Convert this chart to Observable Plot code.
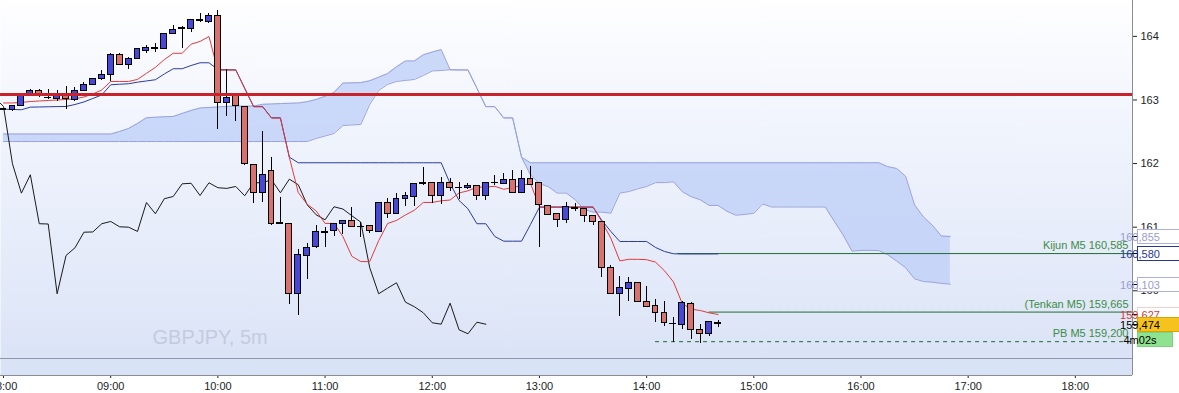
<!DOCTYPE html>
<html><head><meta charset="utf-8">
<script src="https://cdn.jsdelivr.net/npm/d3@7"></script>
<script src="https://cdn.jsdelivr.net/npm/@observablehq/plot@0.6"></script>
<style>
html,body{margin:0;padding:0;background:#fff;}
#chart{width:1179px;height:393px;overflow:hidden;}
</style></head>
<body><div id="chart"></div>
<script>
// ---- data (bar index i = 5-minute bars from 08:00) ----
const opens = [162.845,162.846,162.909,163.066,163.145,163.035,163.013,163.086,163.003,163.145,
163.239,163.322,163.396,163.700,163.553,163.648,163.767,163.800,163.794,164.035,
164.115,164.119,164.245,164.230,164.313,162.956,163.055,162.887,161.975,161.541,
161.876,161.060,161.043,159.953,160.539,160.681,160.915,160.933,161.043,161.090,
161.010,161.022,160.921,161.388,161.211,161.440,161.472,161.680,161.698,161.498,
161.698,161.620,161.613,161.640,161.494,161.690,161.682,161.745,161.541,161.755,
161.698,161.330,161.200,161.116,161.295,161.290,161.179,161.085,160.362,159.953,
160.031,160.126,159.827,159.753,159.654,159.485,159.455,159.785,159.381,159.324,
159.497];
const highs = [162.870,162.915,163.065,163.170,163.170,163.160,163.149,163.212,163.192,163.275,
163.340,163.469,163.736,163.736,163.660,163.800,163.862,163.884,164.040,164.176,
164.156,164.270,164.355,164.355,164.407,163.475,163.107,162.900,161.990,162.505,
162.091,161.472,161.050,160.645,160.739,161.022,161.000,161.060,161.100,161.305,
161.079,161.030,161.390,161.447,161.525,161.541,161.690,161.934,161.700,161.786,
161.761,161.698,161.682,161.650,161.700,161.808,161.840,161.892,161.892,161.954,
161.705,161.340,161.210,161.388,161.377,161.300,161.190,161.090,160.400,160.230,
160.204,160.130,160.068,159.859,159.827,159.585,159.832,159.816,159.465,159.510,
159.528];
const lows = [162.830,162.819,162.900,163.060,163.035,163.003,162.976,162.846,162.976,163.140,
163.230,163.310,163.291,163.540,163.484,163.640,163.736,163.752,163.790,164.030,
163.805,164.066,164.218,164.207,162.531,162.745,162.667,161.965,161.377,161.393,
161.022,161.040,159.785,159.612,160.183,160.670,160.686,160.854,160.885,161.000,
160.843,160.896,160.920,161.142,161.210,161.326,161.326,161.660,161.377,161.352,
161.566,161.436,161.600,161.420,161.420,161.651,161.675,161.535,161.535,161.660,
160.686,161.176,161.000,161.063,161.252,161.079,161.027,160.214,159.945,159.601,
159.837,159.810,159.740,159.497,159.439,159.192,159.387,159.230,159.176,159.282,
159.428];
const closes = [162.855,162.909,163.060,163.145,163.055,163.025,163.091,163.008,163.145,163.239,
163.333,163.396,163.700,163.553,163.648,163.794,163.821,163.810,164.035,164.104,
164.125,164.261,164.255,164.313,162.956,163.035,162.898,161.997,161.535,161.824,
161.054,161.050,159.953,160.555,160.676,160.921,160.925,161.054,161.090,161.006,
161.000,160.933,161.388,161.211,161.447,161.483,161.682,161.690,161.498,161.698,
161.620,161.610,161.640,161.494,161.698,161.700,161.745,161.541,161.755,161.667,
161.352,161.195,161.116,161.321,161.285,161.179,161.079,160.362,159.953,160.041,
160.126,159.821,159.749,159.654,159.497,159.475,159.805,159.387,159.324,159.506,
159.474];
const tenkan = [162.953,162.953,162.961,162.976,162.984,162.992,163.000,163.008,163.016,163.047,
163.093,163.158,163.291,163.291,163.291,163.323,163.419,163.512,163.635,163.734,
163.734,163.877,163.920,163.998,163.469,163.469,163.469,163.186,162.892,162.892,
162.715,162.715,162.096,161.544,161.360,161.256,161.059,161.059,160.852,160.542,
160.459,160.459,160.787,161.058,161.106,161.192,161.267,161.389,161.389,161.415,
161.427,161.538,161.572,161.630,161.630,161.643,161.596,161.622,161.656,161.687,
161.320,161.320,161.320,161.320,161.320,161.320,161.320,161.084,160.825,160.470,
160.495,160.495,160.489,160.450,160.315,160.141,159.796,159.711,159.690,159.653,
159.627];
const kijun = [162.855,162.851,162.846,162.887,162.890,162.893,162.896,162.898,162.929,162.969,
163.024,163.079,163.239,163.247,163.255,163.280,163.299,163.318,163.409,163.491,
163.491,163.542,163.585,163.585,163.480,163.475,163.475,163.181,162.898,162.898,
162.720,162.720,162.101,162.013,162.013,162.013,162.013,162.013,162.013,162.013,
162.013,162.013,162.013,162.013,162.013,162.013,162.013,162.013,162.013,162.013,
161.687,161.420,161.289,161.054,161.054,160.854,160.780,160.780,160.780,161.042,
161.314,161.314,161.314,161.314,161.314,161.314,161.314,161.105,160.932,160.775,
160.775,160.775,160.775,160.681,160.618,160.582,160.579,160.579,160.579,160.579,
160.580];
const senkouA = [162.465,162.465,162.465,162.465,162.465,162.465,162.465,162.465,162.465,162.465,
162.465,162.465,162.465,162.505,162.552,162.630,162.720,162.728,162.736,162.741,
162.788,162.835,162.874,162.882,162.890,162.898,162.904,162.902,162.904,162.932,
162.937,162.943,162.948,162.953,162.973,163.008,163.059,163.119,163.265,163.269,
163.273,163.302,163.359,163.415,163.522,163.613,163.613,163.710,163.753,163.792,
163.475,163.472,163.472,163.184,162.895,162.895,162.718,162.718,162.099,161.820,
161.687,161.635,161.536,161.536,161.433,161.278,161.236,161.236,161.220,161.536,
161.560,161.603,161.640,161.701,161.701,161.714,161.557,161.479,161.431,161.342,
161.342,161.249,161.188,161.201,161.218,161.365,161.317,161.317,161.317,161.317,
161.317,161.317,161.317,161.095,160.879,160.623,160.635,160.635,160.632,160.566,
160.467,160.362,160.188,160.145,160.135,160.116,160.104];
const senkouB = [162.347,162.347,162.347,162.347,162.347,162.347,162.347,162.347,162.347,162.347,
162.347,162.347,162.347,162.347,162.347,162.347,162.347,162.347,162.347,162.347,
162.347,162.347,162.347,162.347,162.347,162.347,162.347,162.347,162.347,162.347,
162.347,162.347,162.347,162.347,162.347,162.395,162.434,162.473,162.599,162.607,
162.615,162.929,163.149,163.244,163.291,163.307,163.322,163.385,163.456,163.464,
163.475,163.472,163.472,163.184,162.895,162.895,162.718,162.718,162.099,162.013,
162.013,162.013,162.013,162.013,162.013,162.013,162.013,162.013,162.013,162.013,
162.013,162.013,162.013,162.013,162.013,162.013,162.013,162.013,162.013,162.013,
162.013,162.013,162.013,162.013,162.013,162.013,162.013,162.013,162.013,162.013,
162.013,162.013,162.013,162.013,162.013,162.013,162.013,162.013,162.013,161.952,
161.923,161.800,161.350,161.160,161.030,160.860,160.855];
const chikouShift = 26;
const resistanceLevel = 163.086;
const levelNames = ["Kijun M5 160,585", "(Tenkan M5) 159,665", "PB M5 159,200"];
const levelValues = [160.585, 159.665, 159.200];
const levelStartBars = [75.5, 79, 73];
const levelDashed = [false, false, true];
const tagTexts = ["160,855", "160,580", "160,103", "159,627", "159,474"];
const tagValues = [160.855, 160.580, 160.103, 159.627, 159.474];
const timerText = "4m02s";
const timeTicks = [0, 12, 24, 36, 48, 60, 72, 84, 96, 108, 120];
const timeLabels = ["08:00","09:00","10:00","11:00","12:00","13:00","14:00","15:00","16:00","17:00","18:00"];
const priceTicks = [160, 161, 162, 163, 164];
const symbolName = "GBPJPY, 5m";
const xDomain = [-0.34, 126.4];
const yDomain = [158.668, 164.564];
const paneSeparator = 158.935;

// ---- build tables ----
const candles = opens.map((o, i) => ({i, open: o, high: highs[i], low: lows[i], close: closes[i]}));
const ichi = tenkan.map((t, i) => ({i, tenkan: t, kijun: kijun[i]}));
const cloud = senkouA.map((a, i) => ({i, a, b: senkouB[i]}));
const chikou = closes.slice(chikouShift - 1).map((c, k) => ({i: k - 1, v: c}));
const levels = levelNames.map((name, k) => ({name, value: levelValues[k], start: levelStartBars[k], dashed: levelDashed[k]}));

const tagStyles = [
  {color: "#9b9bd2", bg: "#ffffff", border: "#aeb0de"},
  {color: "#27378f", bg: "#ffffff", border: "#27378f"},
  {color: "#9b9bd2", bg: "#ffffff", border: "#aeb0de"},
  {color: "#d13a3a", bg: "#ffffff", border: "#f2d0d0"},
  {color: "#000000", bg: "#f6c21e", border: "#d8a400"}
];

const font = "'Liberation Sans', Arial, sans-serif";
const plot = Plot.plot({
  width: 1179, height: 393,
  marginLeft: 0, marginRight: 47, marginTop: 0, marginBottom: 18,
  style: {background: "transparent", fontFamily: font, fontSize: "11px", color: "#222", overflow: "hidden"},
  x: {domain: xDomain, ticks: timeTicks, tickFormat: d => timeLabels[timeTicks.indexOf(d)], tickSize: 3, tickPadding: 4, label: null},
  y: {domain: yDomain, axis: "right", ticks: priceTicks, tickFormat: d => String(d), tickSize: 4, tickPadding: 4, label: null},
  marks: [
    Plot.frame({fill: "url(#bgGrad)", stroke: "none"}),
    Plot.ruleY([paneSeparator], {stroke: "#8d96aa", strokeWidth: 1}),
    Plot.areaY(cloud, {x: "i", y1: "a", y2: "b", fill: "#bccdf7", fillOpacity: 0.75}),
    Plot.line(cloud, {x: "i", y: "a", stroke: "#9aa2da", strokeWidth: 1}),
    Plot.line(cloud, {x: "i", y: "b", stroke: "#9aa2da", strokeWidth: 1}),
    Plot.ruleY(levels.filter(d => !d.dashed), {y: "value", x1: "start", x2: () => xDomain[1], stroke: "#1d6e31", strokeWidth: 1}),
    Plot.ruleY(levels.filter(d => d.dashed), {y: "value", x1: "start", x2: () => xDomain[1], stroke: "#1d6e31", strokeWidth: 1, strokeDasharray: "4,4"}),
    Plot.line(chikou, {x: "i", y: "v", stroke: "#1a1a1a", strokeWidth: 1}),
    Plot.line(ichi, {x: "i", y: "kijun", stroke: "#2c3c9c", strokeWidth: 1}),
    Plot.line(ichi, {x: "i", y: "tenkan", stroke: "#e23b3b", strokeWidth: 1}),
    Plot.ruleX(candles, {x: "i", y1: "low", y2: "high", stroke: "#000", strokeWidth: 1, shapeRendering: "crispEdges"}),
    Plot.rect(candles.filter(d => d.close >= d.open), {x1: d => d.i - 0.33, x2: d => d.i + 0.33, y1: "open", y2: "close", fill: "#4848d6", stroke: "#000", strokeWidth: 1, shapeRendering: "crispEdges"}),
    Plot.rect(candles.filter(d => d.close < d.open), {x1: d => d.i - 0.33, x2: d => d.i + 0.33, y1: "open", y2: "close", fill: "#d9726e", stroke: "#000", strokeWidth: 1, shapeRendering: "crispEdges"}),
    Plot.ruleY([resistanceLevel], {stroke: "#c8232b", strokeWidth: 3}),
    Plot.text(levels, {y: "value", text: "name", frameAnchor: "right", textAnchor: "end", lineAnchor: "middle", dx: -4, dy: -8, fill: "#3c8c44", fontSize: 11}),
    Plot.text([symbolName], {text: d => d, frameAnchor: "bottom-left", textAnchor: "start", lineAnchor: "middle", dx: 152, dy: -38, fontSize: 20, fill: "#c3cbe0"}),
    Plot.ruleX([xDomain[1]], {stroke: "#8c8c8c", strokeWidth: 1}),
    Plot.ruleY([yDomain[0]], {stroke: "#8c8c8c", strokeWidth: 1})
  ]
});
document.getElementById("chart").appendChild(plot);

// gradient background for the frame
const svg = d3.select(plot);
svg.insert("defs", ":first-child").html(
  '<linearGradient id="bgGrad" x1="0" y1="0" x2="0" y2="1">' +
  '<stop offset="0" stop-color="#fefeff"/>' +
  '<stop offset="0.27" stop-color="#f3f6fd"/>' +
  '<stop offset="0.53" stop-color="#eaeffb"/>' +
  '<stop offset="0.8" stop-color="#e1e8f8"/>' +
  '<stop offset="1" stop-color="#d8e2f6"/></linearGradient>');

// price tags on the right axis, placed with Plot's own y scale
const yScale = plot.scale("y");
const xScale = plot.scale("x");
const frameRight = xScale.apply(xDomain[1]);
const tags = svg.append("g").attr("font-family", font).attr("font-size", 11);
tagValues.forEach((v, k) => {
  const y = Math.round(yScale.apply(v));
  const s = tagStyles[k];
  tags.append("line").attr("x1", frameRight).attr("x2", frameRight + 5).attr("y1", y + 0.5).attr("y2", y + 0.5).attr("stroke", "#000");
  tags.append("rect").attr("x", frameRight + 5.5).attr("y", y - 6.5).attr("width", 50).attr("height", 14)
    .attr("fill", s.bg).attr("stroke", s.border);
  tags.append("text").attr("x", frameRight + 8).attr("y", y + 4.5).attr("fill", s.color).text(tagTexts[k]);
});
{
  const y = Math.round(yScale.apply(tagValues[tagValues.length - 1])) + 15;
  tags.append("rect").attr("x", frameRight + 5.5).attr("y", y - 6.5).attr("width", 35).attr("height", 14)
    .attr("fill", "#8fe28f").attr("stroke", "#7fd07f");
  tags.append("text").attr("x", frameRight + 8).attr("y", y + 4.5).attr("fill", "#000").text(timerText);
}
</script>
</body></html>
